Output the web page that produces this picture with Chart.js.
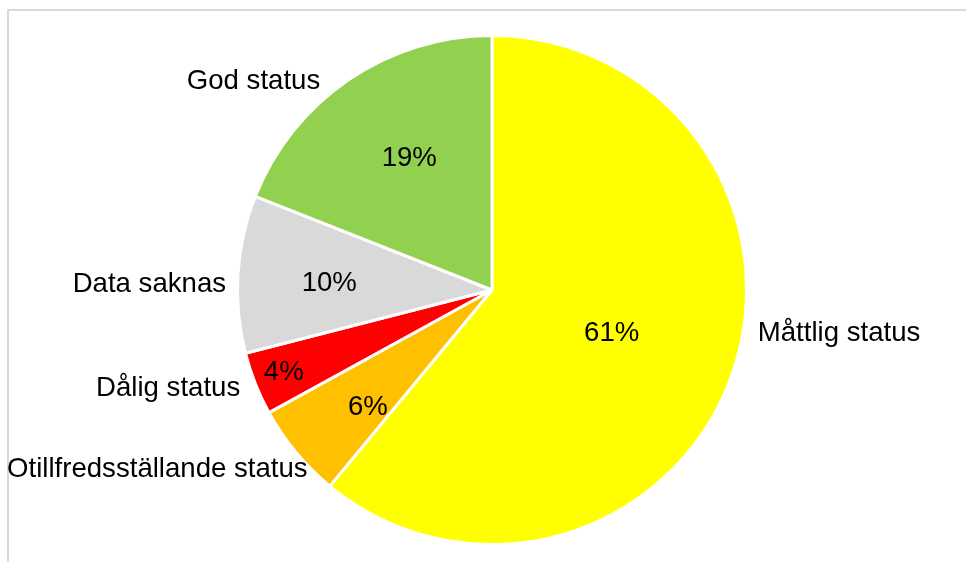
<!DOCTYPE html>
<html>
<head>
<meta charset="utf-8">
<script src="https://cdn.jsdelivr.net/npm/chart.js@4"></script>
<style>
  html, body { margin: 0; padding: 0; background: #fff; }
  #wrap { position: relative; width: 966px; height: 562px; }
</style>
</head>
<body>
<div id="wrap"><canvas id="myPieChart"></canvas></div>
<script>
// data
var statusLabels = ["Måttlig status", "Otillfredsställande status", "Dålig status", "Data saknas", "God status"];
var statusShare = [61, 6, 4, 10, 19];
var statusColors = ["#FFFF00", "#FFC000", "#FF0000", "#D9D9D9", "#92D050"];

var FONT = '27.6px "Liberation Sans", Arial, sans-serif';

// where each label sits relative to its slice (excel-ish "best fit")
var pctRadius = [0.5, 0.67, 0.88, 0.64, 0.61];
var pctTurn = [0, -3.7, 0, -1.2, 2]; // degrees
var nameNudge = [[15, -47], [21, 10], [-4, 0], [0, 11], [-22, 12]];

var frame = {
  id: 'frame',
  beforeDraw: function (chart) {
    var c = chart.ctx;
    c.save();
    c.strokeStyle = "#d9d9d9";
    c.lineWidth = 2;
    c.beginPath();
    c.moveTo(966, 10);
    c.lineTo(8, 10);
    c.lineTo(8, 562);
    c.stroke();
    c.restore();
  }
};

var sliceLabels = {
  id: 'sliceLabels',
  afterDatasetsDraw: function (chart) {
    var c = chart.ctx;
    var meta = chart.getDatasetMeta(0);
    var total = statusShare.reduce(function (a, b) { return a + b; }, 0);
    c.save();
    c.font = FONT;
    c.fillStyle = "#000";
    c.textBaseline = "middle";
    meta.data.forEach(function (arc, i) {
      var mid = (arc.startAngle + arc.endAngle) / 2;
      var r = arc.outerRadius;
      // percentage inside
      var pr = r * pctRadius[i];
      var pa = mid + pctTurn[i] * Math.PI / 180;
      c.textAlign = "center";
      c.fillText(Math.round(statusShare[i] / total * 100) + "%", arc.x + Math.cos(pa) * pr, arc.y + Math.sin(pa) * pr);
      // category name outside
      var or = r + 12;
      var x = arc.x + Math.cos(mid) * or + nameNudge[i][0];
      var y = arc.y + Math.sin(mid) * or + nameNudge[i][1];
      c.textAlign = Math.cos(mid) >= 0 ? "left" : "right";
      c.fillText(statusLabels[i], x, y);
    });
    c.restore();
  }
};

var ctx = document.getElementById('myPieChart').getContext('2d');
var myPieChart = new Chart(ctx, {
  type: 'pie',
  data: {
    labels: statusLabels,
    datasets: [{
      data: statusShare,
      backgroundColor: statusColors,
      borderColor: "#ffffff",
      borderWidth: 3
    }]
  },
  options: {
    responsive: true,
    maintainAspectRatio: false,
    animation: false,
    layout: {
      padding: { left: 236, right: 218, top: 34, bottom: 16 }
    },
    plugins: {
      legend: { display: false },
      tooltip: { enabled: false }
    }
  },
  plugins: [frame, sliceLabels]
});
</script>
</body>
</html>
